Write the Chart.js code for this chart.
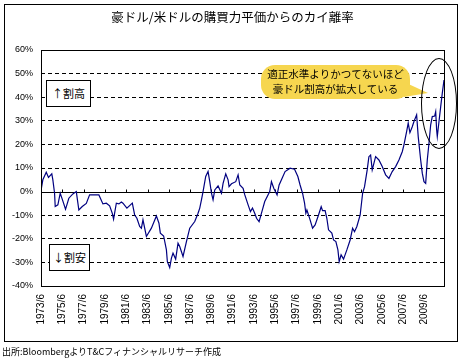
<!DOCTYPE html>
<html>
<head>
<meta charset="utf-8">
<script src="https://cdn.jsdelivr.net/npm/chart.js@4"></script>
<style>
  html, body { margin: 0; padding: 0; background: #fff; }
  #wrap { position: relative; width: 465px; height: 361px; overflow: hidden; font-family: "Noto Sans CJK JP", sans-serif; color: #000; }
  #frame { position: absolute; left: 4px; top: 4px; width: 452px; height: 336px; border: 1px solid #000; }
  #title { position: absolute; left: 0; width: 465px; top: 8px; text-align: center; font-size: 12.5px; line-height: 18px; }
  #note { position: absolute; left: 2px; top: 345px; font-size: 9px; line-height: 14px; white-space: nowrap; }
  .tag { position: absolute; border: 1px solid #000; background: #fff; font-size: 11px; text-align: center; box-sizing: border-box; }
  #high { left: 46px; top: 80px; width: 45px; height: 27px; line-height: 25px; }
  #low { left: 49px; top: 244px; width: 41px; height: 27px; line-height: 25px; }
  #callout { position: absolute; left: 261px; top: 66px; width: 149px; text-align: center; font-size: 10.5px; line-height: 15px; white-space: nowrap; }
  #shapes { position: absolute; left: 0; top: 0; }
  #ring { position: absolute; left: 421px; top: 58px; width: 36px; height: 91px; border: 1px solid #000; border-radius: 50%; box-sizing: border-box; }
  canvas { position: absolute; left: 0; top: 0; }
</style>
</head>
<body>
<div id="wrap">
  <div id="frame"></div>
  <canvas id="chart" width="465" height="361"></canvas>
  <div id="title">豪ドル/米ドルの購買力平価からのカイ離率</div>
  <div class="tag" id="high">↑割高</div>
  <div class="tag" id="low">↓割安</div>
  <svg id="shapes" width="465" height="361">
    <rect x="261" y="65" width="149" height="34" rx="14" ry="14" fill="#f6d64f"/>
    <polygon points="404,82 428,93 404,97" fill="#f6d64f"/>
  </svg>
  <div id="callout">適正水準よりかつてないほど<br>豪ドル割高が拡大している</div>
  <div id="ring"></div>
  <div id="note">出所:BloombergよりT&amp;Cフィナンシャルリサーチ作成</div>
</div>
<script>
// decimal years (June = year + 5/12) and deviation in %
const dates = [
  1973.44, 1973.59, 1973.91, 1974.12, 1974.43, 1974.53, 1974.69, 1974.75, 1975.00, 1975.22,
  1975.41, 1975.72, 1976.03, 1976.41, 1976.73, 1976.97, 1977.29, 1977.67, 1977.98, 1978.85,
  1979.23, 1979.55, 1979.86, 1980.11, 1980.23, 1980.49, 1980.73, 1980.96,
  1981.11, 1981.48, 1981.99, 1982.21, 1982.42, 1982.68, 1982.84, 1982.99, 1983.31, 1983.78,
  1984.25, 1984.49, 1984.62, 1984.93, 1985.19, 1985.28, 1985.50, 1985.66, 1985.81, 1986.06,
  1986.28, 1986.44, 1986.75, 1987.07, 1987.38, 1987.85, 1988.16, 1988.32, 1988.48,
  1988.63, 1988.88, 1989.10, 1989.26, 1989.42, 1989.57, 1989.73, 1990.04, 1990.36, 1990.51,
  1990.76, 1990.98, 1991.07, 1991.30, 1991.70, 1991.92, 1992.08, 1992.39, 1992.55, 1992.86,
  1993.08, 1993.27, 1993.48, 1993.65, 1993.89, 1994.11, 1994.42, 1994.89, 1995.05, 1995.27,
  1995.58, 1995.77, 1995.99,
  1996.33, 1996.80, 1997.22, 1997.53, 1997.74, 1997.97, 1998.16, 1998.28, 1998.38, 1998.68,
  1998.91, 1999.15, 1999.47, 1999.72, 1999.85, 2000.09, 2000.25, 2000.41, 2000.72, 2000.88,
  2001.10, 2001.29, 2001.41, 2001.59, 2001.82, 2002.13, 2002.44, 2002.67, 2002.85, 2003.07,
  2003.38, 2003.61, 2003.79,
  2004.04, 2004.20, 2004.36, 2004.51, 2004.83, 2005.14, 2005.45, 2005.77, 2006.08, 2006.39,
  2006.71, 2007.02, 2007.33, 2007.49, 2007.74, 2007.89, 2008.05, 2008.27, 2008.43, 2008.68,
  2008.83, 2009.06, 2009.21, 2009.37, 2009.53, 2009.68, 2009.84, 2010.00, 2010.15, 2010.37,
  2010.47, 2010.56, 2010.62, 2010.78, 2010.94, 2011.09, 2011.25
];
const gap = [
  1, 5, 8.2, 6, 7.5, 5, -0.7, -6.3, -5.6, -0.7,
  -3.2, -7.5, -2.8, -1, 0, -7.8, -6.3, -5, -1.4, -1.4,
  -5.2, -4.9, -6, -9.2, -11.7, -4.9, -5.2, -4.4,
  -4.9, -7, -4.9, -9.9, -11.3, -14.8, -15.5, -12, -19, -15.5,
  -10.3, -13.4, -17.6, -18.8, -24.7, -29.7, -32.2, -28.2, -26.1, -28.6,
  -21.9, -23.3, -27.5, -21.2, -15.5, -12.7, -9.2, -7, -3.5,
  0, 6.4, 8.5, 4.2, -0.7, -3.5, 0.7, 2.4, -0.7, 3.5,
  7.5, 5, 2.1, 3.3, 4.2, 7.1, 2.8, 1.4, -1.4, -5.6,
  -8.5, -7, -9.2, -11.3, -12.7, -9.2, -4.2, 0, 4.2, 1.4,
  -1.4, 2.8, 5,
  8.5, 9.9, 9.5, 6.4, 2.8, -0.7, -4.9, -9.2, -7.8, -12,
  -15.5, -14.1, -9.9, -6.4, -8.1, -8.1, -11.3, -16.2, -17.6, -20.5,
  -21.2, -24.7, -29.7, -26.8, -28.6, -24.7, -20.5, -15.5, -17, -14.8,
  -9.9, -0.7, 2.1,
  9.2, 14.8, 15.5, 9.2, 14.8, 13.4, 10.6, 7.1, 5.6, 8.5,
  10.6, 13.4, 16.9, 19.8, 25.4, 29, 25, 27.5, 29.7, 32.5,
  23.3, 13.4, 7.8, 4.2, 3.5, 13.4, 20.5, 28.3, 31.8, 32,
  33.9, 26.1, 23.3, 29.7, 36, 41.7, 47.3
];
const tickYears = [1973, 1975, 1977, 1979, 1981, 1983, 1985, 1987, 1989, 1991,
                   1993, 1995, 1997, 1999, 2001, 2003, 2005, 2007, 2009];
const xLabels = tickYears.map(y => y + '/6');
const yMin = -40, yMax = 60, yStep = 10;

// solid zero line with small ticks, and the plot frame
const frame = {
  id: 'frame',
  beforeDatasetsDraw(chart) {
    const { ctx, chartArea: a, scales } = chart;
    const y0 = Math.round(scales.y.getPixelForValue(0)) + 0.5;
    ctx.save();
    ctx.strokeStyle = '#000';
    ctx.lineWidth = 1;
    ctx.beginPath();
    ctx.moveTo(a.left, y0);
    ctx.lineTo(a.right, y0);
    tickYears.forEach(y => {
      const x = Math.round(scales.x.getPixelForValue(y + 5 / 12)) + 0.5;
      ctx.moveTo(x, y0);
      ctx.lineTo(x, y0 - 3);
    });
    ctx.stroke();
    ctx.restore();
  },
  afterDraw(chart) {
    const { ctx, chartArea: a } = chart;
    ctx.save();
    ctx.strokeStyle = '#000';
    ctx.lineWidth = 1;
    ctx.strokeRect(Math.round(a.left) + 0.5, Math.round(a.top) + 0.5,
      Math.round(a.right - a.left), Math.round(a.bottom - a.top));
    ctx.restore();
  }
};

new Chart(document.getElementById('chart'), {
  type: 'line',
  data: {
    datasets: [{
      data: dates.map((d, i) => ({ x: d, y: gap[i] })),
      borderColor: '#000080',
      borderWidth: 1.2,
      pointRadius: 0,
      tension: 0,
      fill: false,
    }],
  },
  options: {
    responsive: false,
    animation: false,
    events: [],
    layout: { padding: { left: 0, top: 50, right: 21, bottom: 0 } },
    plugins: { legend: { display: false }, tooltip: { enabled: false } },
    scales: {
      x: {
        type: 'linear',
        min: 1973 + 5 / 12,
        max: 2011.25,
        afterBuildTicks: s => { s.ticks = tickYears.map(y => ({ value: y + 5 / 12 })); },
        afterFit: s => { s.height = 75; },
        grid: { display: false, drawTicks: false },
        border: { display: false },
        ticks: {
          autoSkip: false,
          minRotation: 90,
          maxRotation: 90,
          padding: 8,
          color: '#000',
          font: { family: 'Liberation Sans', size: 10 },
          callback: (v, i) => xLabels[i],
        },
      },
      y: {
        min: yMin,
        max: yMax,
        afterFit: s => { s.width = 41; },
        grid: {
          drawTicks: false,
          lineWidth: 1,
          color: c => (c.tick.value === yMin || c.tick.value === yMax || c.tick.value === 0) ? 'rgba(0,0,0,0)' : '#000',
        },
        border: { display: false, dash: [4, 3] },
        ticks: {
          stepSize: yStep,
          padding: 8,
          color: '#000',
          font: { family: 'Liberation Sans', size: 9 },
          callback: v => v + '%',
        },
      },
    },
  },
  plugins: [frame],
});
</script>
</body>
</html>
